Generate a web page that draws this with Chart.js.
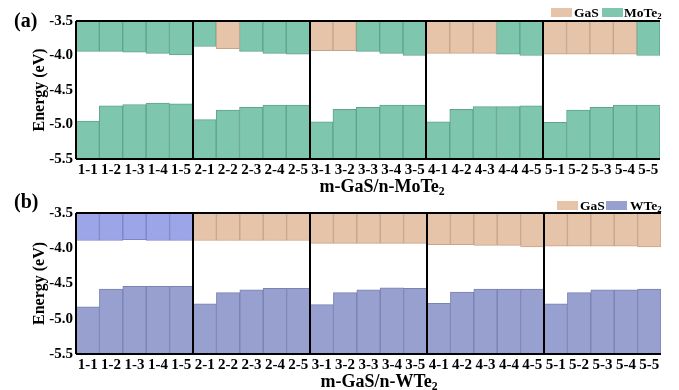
<!DOCTYPE html>
<html>
<head>
<meta charset="utf-8">
<script src="https://cdn.jsdelivr.net/npm/chart.js@4/dist/chart.umd.min.js"></script>
<style>
  html, body { margin: 0; padding: 0; background: #fff; }
  #wrap { position: relative; width: 679px; height: 390px; overflow: hidden; font-family: "Liberation Serif", "Times New Roman", serif; font-weight: bold; color: #000; }
  canvas { position: absolute; left: 0; }
  .lbl { position: absolute; font-size: 20px; line-height: 1; }
  .xt { position: absolute; font-size: 18px; line-height: 1; white-space: nowrap; transform: translateX(-50%); }
  .leg { position: absolute; font-size: 13.5px; line-height: 1; white-space: nowrap; }
  .box { position: absolute; width: 21px; height: 9px; }
  sub { font-size: 0.65em; vertical-align: -0.25em; line-height: 0; }
</style>
</head>
<body>
<div id="wrap">
  <canvas id="ca" width="679" height="195" style="top:0"></canvas>
  <canvas id="cb" width="679" height="195" style="top:195px"></canvas>
  <div class="lbl" style="left:14px;top:10px">(a)</div>
  <div class="lbl" style="left:14px;top:191px">(b)</div>
  <div class="xt" style="left:382px;top:177px">m-GaS/n-MoTe<sub>2</sub></div>
  <div class="xt" style="left:379px;top:372px">m-GaS/n-WTe<sub>2</sub></div>
  <div class="box" style="left:551px;top:8px;background:#E6C4A9"></div>
  <div class="leg" style="left:574px;top:6px">GaS</div>
  <div class="box" style="left:602px;top:8px;background:#7EC7AE"></div>
  <div class="leg" style="left:624px;top:6px">MoTe<sub>2</sub></div>
  <div class="box" style="left:557px;top:201px;background:#E6C4A9"></div>
  <div class="leg" style="left:580px;top:199px">GaS</div>
  <div class="box" style="left:606px;top:201px;background:#98A0D0"></div>
  <div class="leg" style="left:630px;top:199px">WTe<sub>2</sub></div>
</div>
<script>
const categories = ['1-1','1-2','1-3','1-4','1-5','2-1','2-2','2-3','2-4','2-5','3-1','3-2','3-3','3-4','3-5','4-1','4-2','4-3','4-4','4-5','5-1','5-2','5-3','5-4','5-5'];
const yTicks = [-5.5, -5.0, -4.5, -4.0, -3.5];

// panel (a): m-GaS/n-MoTe2
const aCBM = [-3.94,-3.94,-3.95,-3.97,-3.99, -3.87,-3.90,-3.94,-3.97,-3.98, -3.93,-3.93,-3.94,-3.97,-4.00, -3.97,-3.97,-3.97,-3.98,-4.00, -3.98,-3.98,-3.98,-3.98,-4.00];
const aCBMSource = ['T','T','T','T','T', 'T','G','T','T','T', 'G','G','T','T','T', 'G','G','G','T','T', 'G','G','G','G','T'];
const aVBM = [-4.95,-4.73,-4.71,-4.69,-4.70, -4.93,-4.79,-4.75,-4.72,-4.72, -4.96,-4.78,-4.75,-4.72,-4.72, -4.96,-4.78,-4.74,-4.74,-4.73, -4.97,-4.79,-4.75,-4.72,-4.72];

// panel (b): m-GaS/n-WTe2
const bCBM = [-3.89,-3.89,-3.88,-3.89,-3.89, -3.89,-3.89,-3.89,-3.89,-3.89, -3.93,-3.93,-3.93,-3.93,-3.93, -3.95,-3.95,-3.96,-3.96,-3.98, -3.97,-3.97,-3.97,-3.97,-3.98];
const bCBMSource = ['T','T','T','T','T', 'G','G','G','G','G', 'G','G','G','G','G', 'G','G','G','G','G', 'G','G','G','G','G'];
const bVBM = [-4.83,-4.58,-4.54,-4.54,-4.54, -4.79,-4.63,-4.59,-4.57,-4.57, -4.80,-4.63,-4.59,-4.56,-4.57, -4.78,-4.62,-4.58,-4.58,-4.58, -4.79,-4.63,-4.59,-4.59,-4.58];

const Y_MIN = yTicks[0], Y_MAX = yTicks[yTicks.length - 1];
const FONT = '"Liberation Serif", "Times New Roman", serif';

function makeChart(id, cbm, src, vbm, tmdTopColor, tmdTopBorder, tmdBotColor, tmdBotBorder, padTop, padRight) {
  const gasTop = categories.map((c, i) => src[i] === 'G' ? [cbm[i], Y_MAX] : null);
  const tmdTop = categories.map((c, i) => src[i] === 'T' ? [cbm[i], Y_MAX] : null);
  const tmdBot = categories.map((c, i) => [Y_MIN, vbm[i]]);
  const common = { barPercentage: 1, categoryPercentage: 1, grouped: false, borderWidth: 1, borderSkipped: false };
  return new Chart(document.getElementById(id), {
    type: 'bar',
    data: {
      labels: categories,
      datasets: [
        Object.assign({ label: 'GaS', data: gasTop, backgroundColor: '#E6C4A9', borderColor: '#C4A48C' }, common),
        Object.assign({ label: 'TMD CBM', data: tmdTop, backgroundColor: tmdTopColor, borderColor: tmdTopBorder }, common),
        Object.assign({ label: 'TMD VBM', data: tmdBot, backgroundColor: tmdBotColor, borderColor: tmdBotBorder }, common)
      ]
    },
    options: {
      responsive: false,
      animation: false,
      layout: { padding: { top: padTop, right: padRight, left: 30, bottom: 0 } },
      plugins: { legend: { display: false }, tooltip: { enabled: false } },
      scales: {
        x: {
          offset: true,
          border: { display: false },
          grid: {
            z: 1,
            offset: true,
            drawTicks: false,
            lineWidth: 2,
            color: ctx => (ctx.index % 5 === 0) ? '#000' : 'rgba(0,0,0,0)'
          },
          ticks: { color: '#000', font: { family: FONT, size: 15, weight: 'bold' }, maxRotation: 0, minRotation: 0, autoSkip: false, padding: 2 },
          afterFit: s => { s.height = 36; }
        },
        y: {
          min: Y_MIN, max: Y_MAX,
          border: { display: false },
          grid: {
            z: 1,
            drawTicks: false,
            lineWidth: 2,
            color: ctx => (ctx.index === 0 || ctx.index === yTicks.length - 1) ? '#000' : 'rgba(0,0,0,0)'
          },
          afterBuildTicks: s => { s.ticks = yTicks.map(v => ({ value: v })); },
          ticks: { color: '#000', font: { family: FONT, size: 15, weight: 'bold' }, padding: 3, callback: v => Number(v).toFixed(1) },
          title: { display: true, text: 'Energy (eV)', color: '#000', font: { family: FONT, size: 16, weight: 'bold' }, padding: 0 },
          afterFit: s => { s.width = 46; }
        }
      }
    }
  });
}

makeChart('ca', aCBM, aCBMSource, aVBM, '#7EC7AE', '#5FA38C', '#7EC7AE', '#5FA38C', 21, 19);
makeChart('cb', bCBM, bCBMSource, bVBM, '#9BA5E7', '#7C86C4', '#98A0D0', '#7A82B2', 18, 18);
</script>
</body>
</html>
